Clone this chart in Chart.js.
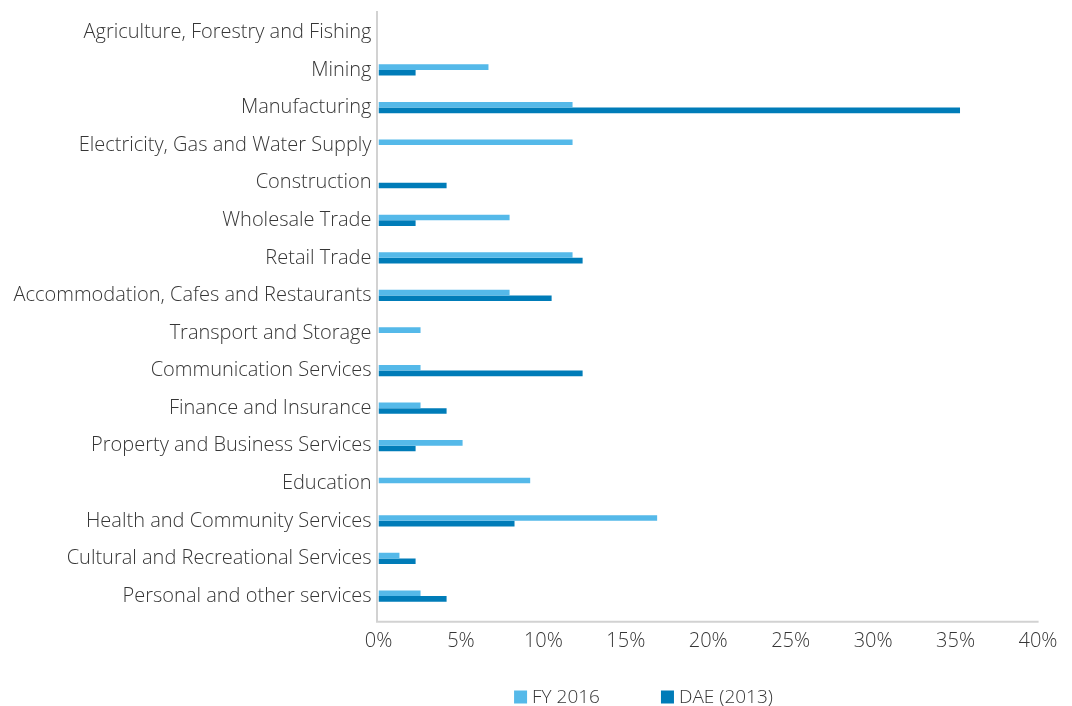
<!DOCTYPE html>
<html>
<head>
<meta charset="utf-8">
<script src="https://cdn.jsdelivr.net/npm/chart.js@4"></script>
<style>
  html, body { margin: 0; padding: 0; background: #fff; }
  #wrap { width: 1072px; height: 706px; position: relative; }
</style>
</head>
<body>
<div id="wrap"><canvas id="chart"></canvas></div>
<script>
// ── Data ─────────────────────────────────
const industries = [
  "Agriculture, Forestry and Fishing",
  "Mining",
  "Manufacturing",
  "Electricity, Gas and Water Supply",
  "Construction",
  "Wholesale Trade",
  "Retail Trade",
  "Accommodation, Cafes and Restaurants",
  "Transport and Storage",
  "Communication Services",
  "Finance and Insurance",
  "Property and Business Services",
  "Education",
  "Health and Community Services",
  "Cultural and Recreational Services",
  "Personal and other services",
];

const fy2016 = [0, 6.67, 11.77, 11.77, 0, 7.95, 11.77, 7.95, 2.55, 2.55, 2.55, 5.1, 9.2, 16.9, 1.27, 2.55];
const dae2013 = [0, 2.25, 35.27, 0, 4.13, 2.25, 12.38, 10.5, 0, 12.38, 4.13, 2.25, 0, 8.25, 2.25, 4.13];

const xTicks = [0, 5, 10, 15, 20, 25, 30, 35, 40];

const LIGHT_BLUE = "#55b9e9";
const DARK_BLUE  = "#007cb8";
const TEXT_COLOR = "#363636";
const AXIS_COLOR = "#d2d2d2";
const FONT_FAMILY = "'Open Sans', 'Noto Sans', sans-serif";
const FONT = { family: FONT_FAMILY, size: 20, weight: 300 };

// ── Axis lines (drawn a little past the plot edges) ──
const axisLines = {
  id: "axisLines",
  afterDatasetsDraw(chart) {
    const { ctx, chartArea: a } = chart;
    ctx.save();
    ctx.strokeStyle = AXIS_COLOR;
    ctx.lineWidth = 2;
    ctx.beginPath();
    ctx.moveTo(a.left - 1.5, a.top - 2.6);
    ctx.lineTo(a.left - 1.5, a.bottom + 7.9);
    ctx.moveTo(a.left - 2.5, a.bottom + 6.9);
    ctx.lineTo(a.right + 0.6, a.bottom + 6.9);
    ctx.stroke();
    ctx.restore();
  }
};

// ── Legend row under the axis ──
const bottomLegend = {
  id: "bottomLegend",
  afterDraw(chart) {
    const { ctx } = chart;
    const box = 13, gap = 5, spacing = 61;
    const cy = 697, cx = 643.5;
    ctx.save();
    ctx.font = `300 19px ${FONT_FAMILY}`;
    ctx.textBaseline = "middle";
    const items = chart.data.datasets.map(ds => ({
      text: ds.label, color: ds.backgroundColor, w: ctx.measureText(ds.label).width
    }));
    const total = items.reduce((s, it) => s + box + gap + it.w, 0) + spacing * (items.length - 1);
    let x = cx - total / 2;
    items.forEach(it => {
      ctx.fillStyle = it.color;
      ctx.fillRect(x, cy - box / 2, box, box);
      ctx.fillStyle = TEXT_COLOR;
      ctx.fillText(it.text, x + box + gap, cy + 1);
      x += box + gap + it.w + spacing;
    });
    ctx.restore();
  }
};

// ── Chart ────────────────────────────────
new Chart(document.getElementById("chart"), {
  type: "bar",
  data: {
    labels: industries,
    datasets: [
      { label: "FY 2016",    data: fy2016,  backgroundColor: LIGHT_BLUE },
      { label: "DAE (2013)", data: dae2013, backgroundColor: DARK_BLUE },
    ]
  },
  options: {
    indexAxis: "y",
    responsive: true,
    maintainAspectRatio: false,
    animation: false,
    datasets: { bar: { categoryPercentage: 0.3, barPercentage: 1.0, borderWidth: 0 } },
    layout: { padding: { top: 13.6, right: 34, bottom: 39.2, left: 0 } },
    plugins: {
      legend: { display: false },
      tooltip: { enabled: false },
    },
    scales: {
      x: {
        min: 0,
        max: 40,
        afterBuildTicks: axis => { axis.ticks = xTicks.map(v => ({ value: v })); },
        grid: { display: false, drawTicks: false },
        border: { display: false },
        ticks: {
          padding: 14,
          color: TEXT_COLOR,
          font: FONT,
          maxRotation: 0,
          callback: v => v + "%",
        },
      },
      y: {
        afterFit: axis => {
          axis.width = 378.5;
          axis.paddingTop = 0;
          axis.paddingBottom = 0;
        },
        grid: { display: false, drawTicks: false },
        border: { display: false },
        ticks: {
          padding: 7,
          color: TEXT_COLOR,
          font: FONT,
          autoSkip: false,
        },
      },
    },
  },
  plugins: [axisLines, bottomLegend],
});
</script>
</body>
</html>
